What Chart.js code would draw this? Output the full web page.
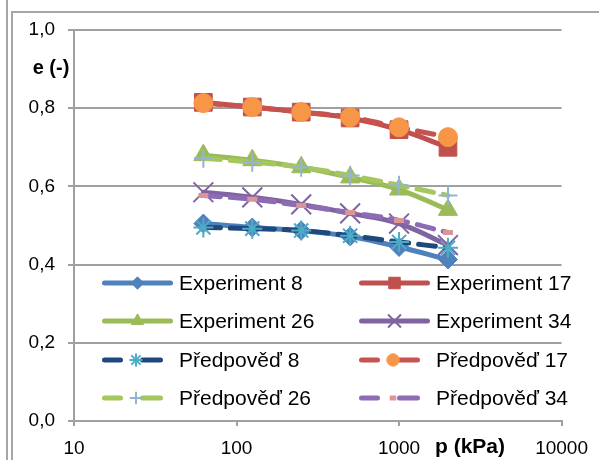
<!DOCTYPE html>
<html>
<head>
<meta charset="utf-8">
<script src="https://cdn.jsdelivr.net/npm/chart.js@4/dist/chart.umd.min.js"></script>
<style>
    body { margin: 0; background: #fff; }
    #wrap { width: 599px; height: 460px; }
</style>
</head>
<body>
<div id="wrap"><canvas id="eChart" width="599" height="460"></canvas></div>
<script>
// data
const pressures = [62.5, 125, 250, 500, 1000, 2000];
const xTicks = [10, 100, 1000, 10000];
const exp8 = [0.505, 0.495, 0.487, 0.472, 0.445, 0.413];
const exp17 = [0.815, 0.803, 0.790, 0.775, 0.745, 0.700];
const exp26 = [0.680, 0.667, 0.649, 0.623, 0.592, 0.540];
const exp34 = [0.585, 0.572, 0.554, 0.531, 0.505, 0.450];
const pred8 = [0.495, 0.492, 0.487, 0.474, 0.458, 0.443];
const pred17 = [0.813, 0.803, 0.790, 0.777, 0.751, 0.726];
const pred26 = [0.672, 0.662, 0.649, 0.628, 0.603, 0.577];
const pred34 = [0.577, 0.567, 0.551, 0.533, 0.513, 0.482];

const FONT = "'Liberation Sans', Arial, sans-serif";
const GRID = '#a0a0a0';

function pts(arr) {
    return arr.map((v, i) => ({ x: pressures[i], y: v }));
}

// experiment = solid line, prediction = dashed line
function expSet(label, arr, color, style, radius, bw) {
    return {
        label: label, data: pts(arr), order: 2,
        borderColor: color, borderWidth: 5, borderCapStyle: 'round',
        pointStyle: style, pointRadius: radius, pointBackgroundColor: color,
        pointBorderColor: color, pointBorderWidth: bw || 1,
        tension: 0.4, dashed: false
    };
}
function predSet(label, arr, color, mColor, style, radius, bw) {
    return {
        label: label, data: pts(arr), order: 1,
        borderColor: color, borderWidth: 5, borderCapStyle: 'round',
        borderDash: [17, 10],
        pointStyle: style, pointRadius: radius, pointBackgroundColor: mColor,
        pointBorderColor: mColor, pointBorderWidth: bw || 1,
        tension: 0.4, dashed: true
    };
}

const datasets = [
    expSet('Experiment 8', exp8, '#4F81BD', 'rectRot', 9.5),
    expSet('Experiment 17', exp17, '#C0504D', 'rect', 12.5),
    expSet('Experiment 26', exp26, '#9BBB59', 'triangle', 11),
    expSet('Experiment 34', exp34, '#8064A2', 'crossRot', 14, 2),
    predSet('Předpověď 8', pred8, '#1F497D', '#4BACC6', 'star', 10, 2),
    predSet('Předpověď 17', pred17, '#C8524F', '#F79646', 'circle', 9.5),
    predSet('Předpověď 26', pred26, '#A4C85C', '#95B3D7', 'cross', 9.5, 2),
    predSet('Předpověď 34', pred34, '#8D6BB5', '#D99694', 'line', 5, 5)
];

// frame lines, axis titles and the legend inside the plot
const decorPlugin = {
    id: 'decor',
    beforeDraw(chart) {
        const ctx = chart.ctx;
        ctx.save();
        ctx.strokeStyle = '#a6a6a6';
        ctx.lineWidth = 2;
        ctx.beginPath();
        ctx.moveTo(7, 0); ctx.lineTo(7, 460);
        ctx.moveTo(12, 460); ctx.lineTo(12, 12); ctx.lineTo(599, 12);
        ctx.stroke();
        ctx.restore();
    },
    afterDraw(chart) {
        const ctx = chart.ctx;
        ctx.save();
        ctx.fillStyle = '#000';
        ctx.textBaseline = 'middle';
        ctx.textAlign = 'center';
        ctx.font = 'bold 20px ' + FONT;
        ctx.fillText('e (-)', 51, 68);
        ctx.font = 'bold 21px ' + FONT;
        ctx.fillText('p (kPa)', 470, 447);

        const colX = [102, 359];
        const rowY = [283, 321, 360, 398];
        chart.data.datasets.forEach((ds, i) => {
            const x0 = colX[i % 2];
            const y = rowY[Math.floor(i / 2)];
            ctx.strokeStyle = ds.borderColor;
            ctx.lineWidth = 5;
            ctx.lineCap = 'round';
            ctx.beginPath();
            let mx;
            if (ds.dashed) {
                ctx.moveTo(x0 + 2.5, y); ctx.lineTo(x0 + 18.5, y);
                ctx.moveTo(x0 + 40.5, y); ctx.lineTo(x0 + 58.5, y);
                mx = x0 + 34;
            } else {
                ctx.moveTo(x0 + 2.5, y); ctx.lineTo(x0 + 68.5, y);
                mx = x0 + 35.5;
            }
            ctx.stroke();
            ctx.fillStyle = ds.pointBackgroundColor;
            ctx.strokeStyle = ds.pointBorderColor;
            ctx.lineWidth = ds.pointBorderWidth;
            ctx.lineCap = 'butt';
            Chart.helpers.drawPoint(ctx, {
                pointStyle: ds.pointStyle,
                radius: ds.pointRadius * 0.65,
                rotation: 0,
                borderWidth: ds.pointBorderWidth
            }, mx, y);
            ctx.fillStyle = '#000';
            ctx.textAlign = 'left';
            ctx.font = '21px ' + FONT;
            ctx.fillText(ds.label, x0 + 77, y + 1);
        });
        ctx.restore();
    }
};

const eCtx = document.getElementById('eChart').getContext('2d');
const eChart = new Chart(eCtx, {
    type: 'line',
    data: { datasets: datasets },
    options: {
        responsive: false,
        animation: false,
        layout: { padding: { left: 0, top: 30, right: 37, bottom: 0 } },
        plugins: {
            legend: { display: false },
            tooltip: { enabled: false }
        },
        scales: {
            x: {
                type: 'logarithmic',
                min: 10,
                max: 10000,
                afterBuildTicks: (scale) => {
                    scale.ticks = xTicks.map(v => ({ value: v }));
                },
                afterFit: (scale) => { scale.height = 39; },
                grid: { drawOnChartArea: false, color: GRID, lineWidth: 2, tickLength: 5 },
                border: { color: GRID, width: 2 },
                ticks: {
                    padding: 11,
                    color: '#000',
                    font: { family: FONT, size: 19 },
                    maxRotation: 0,
                    callback: (v) => String(v)
                }
            },
            y: {
                min: 0,
                max: 1,
                afterFit: (scale) => { scale.width = 74; },
                grid: { color: GRID, lineWidth: 2, tickLength: 6 },
                border: { color: GRID, width: 2 },
                ticks: {
                    stepSize: 0.2,
                    padding: 13,
                    color: '#000',
                    font: { family: FONT, size: 19 },
                    callback: (v) => v.toFixed(1).replace('.', ',')
                }
            }
        }
    },
    plugins: [decorPlugin]
});
</script>
</body>
</html>
